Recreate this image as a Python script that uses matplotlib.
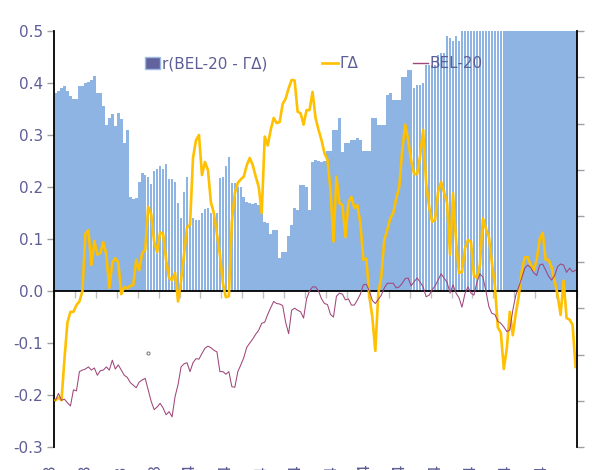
import matplotlib
matplotlib.use('Agg')
import matplotlib.pyplot as plt
import matplotlib.patches as mpatches
import matplotlib.lines as mlines
import numpy as np

# *************************************************************************
# Data (daily values, left-axis units)

corr_bel_gd = [0.38, 0.385, 0.39, 0.395, 0.385, 0.375, 0.37, 0.37, 0.395, 0.395,
               0.40, 0.402, 0.405, 0.413, 0.38, 0.38, 0.355, 0.32, 0.333, 0.34,
               0.318, 0.342, 0.33, 0.285, 0.31, 0.18, 0.177, 0.178, 0.21, 0.227,
               0.223, 0.22, 0.205, 0.23, 0.235, 0.24, 0.235, 0.245, 0.215, 0.215,
               0.21, 0.17, 0.14, 0.19, 0.22, 0.14, 0.14, 0.137, 0.137, 0.15,
               0.158, 0.16, 0.15, 0.146, 0.15, 0.217, 0.22, 0.24, 0.258, 0.207,
               0.208, 0.2, 0.2, 0.18, 0.172, 0.17, 0.168, 0.17, 0.165, 0.156,
               0.133, 0.13, 0.11, 0.117, 0.118, 0.063, 0.075, 0.075, 0.105, 0.127,
               0.16, 0.156, 0.204, 0.204, 0.2, 0.156, 0.248, 0.252, 0.25, 0.248,
               0.25, 0.27, 0.27, 0.31, 0.31, 0.333, 0.268, 0.285, 0.285, 0.29,
               0.29, 0.294, 0.29, 0.27, 0.27, 0.27, 0.333, 0.333, 0.32, 0.32,
               0.32, 0.377, 0.38, 0.367, 0.367, 0.367, 0.412, 0.412, 0.425, 0.425,
               0.39, 0.396, 0.396, 0.40, 0.435, 0.435, 0.435, 0.435, 0.454, 0.458,
               0.458, 0.49, 0.486, 0.48, 0.49, 0.48,
               0.52, 0.53, 0.55, 0.56, 0.54, 0.57, 0.58, 0.56, 0.59, 0.6,
               0.61, 0.6, 0.58, 0.59, 0.62, 0.61, 0.6, 0.58, 0.57, 0.59,
               0.6, 0.62, 0.61, 0.6, 0.59, 0.58, 0.6, 0.61, 0.62, 0.6,
               0.59, 0.58, 0.57, 0.58, 0.6, 0.59, 0.58, 0.57, 0.56]

gamma_delta = [-0.21, -0.205, -0.21, -0.13, -0.06, -0.04, -0.04, -0.027, -0.02, 0.0,
               0.11, 0.117, 0.05, 0.096, 0.07, 0.073, 0.094, 0.07, 0.006, 0.054,
               0.063, 0.055, -0.006, 0.008, 0.005, 0.01, 0.011, 0.06, 0.04, 0.073,
               0.079, 0.162, 0.148, 0.095, 0.075, 0.113, 0.11, 0.06, 0.025, 0.021,
               0.035, -0.02, 0.02, 0.07, 0.123, 0.127, 0.256, 0.29, 0.30, 0.223,
               0.248, 0.233, 0.17, 0.15, 0.11, 0.07, 0.015, -0.012, -0.01, 0.133,
               0.188, 0.208, 0.215, 0.22, 0.242, 0.256, 0.242, 0.22, 0.2, 0.15,
               0.297, 0.28, 0.31, 0.333, 0.323, 0.325, 0.36, 0.37, 0.39, 0.406,
               0.405, 0.345, 0.342, 0.32, 0.348, 0.348, 0.383, 0.333, 0.31, 0.29,
               0.265, 0.252, 0.194, 0.095, 0.22, 0.169, 0.165, 0.104, 0.17, 0.181,
               0.16, 0.165, 0.13, 0.06, 0.062, -0.01, -0.05, -0.115, -0.005, 0.027,
               0.098, 0.117, 0.14, 0.15, 0.178, 0.2, 0.27, 0.32, 0.29, 0.25,
               0.225, 0.225, 0.26, 0.31, 0.208, 0.162, 0.133, 0.137, 0.19, 0.21,
               0.19, 0.17, 0.07, 0.188, 0.098, 0.035, 0.037, 0.082, 0.098, 0.095,
               0.03, 0.025, 0.05, 0.14, 0.12, 0.104, 0.055, 0.01, -0.07, -0.08,
               -0.15, -0.11, -0.04, -0.085, -0.043, -0.01, 0.038, 0.065, 0.065, 0.05,
               0.04, 0.06, 0.1, 0.112, 0.06, 0.06, 0.045, 0.02, -0.008, -0.046,
               0.02, -0.052, -0.055, -0.065, -0.146]

bel20 = [-0.21, -0.197, -0.21, -0.208, -0.215, -0.221, -0.19, -0.192, -0.155, -0.152,
         -0.15, -0.146, -0.152, -0.148, -0.162, -0.153, -0.152, -0.146, -0.152, -0.133,
         -0.15, -0.142, -0.152, -0.162, -0.166, -0.176, -0.181, -0.186, -0.175, -0.171,
         -0.168, -0.19, -0.212, -0.228, -0.223, -0.216, -0.225, -0.238, -0.232, -0.242,
         -0.203, -0.18, -0.146, -0.14, -0.138, -0.155, -0.138, -0.13, -0.131, -0.12,
         -0.11, -0.106, -0.109, -0.114, -0.117, -0.155, -0.155, -0.16, -0.155, -0.184,
         -0.185, -0.155, -0.142, -0.128, -0.108, -0.1, -0.092, -0.083, -0.075, -0.062,
         -0.06, -0.045, -0.032, -0.02, -0.024, -0.025, -0.028, -0.06, -0.082, -0.037,
         -0.033, -0.037, -0.04, -0.052, -0.015, 0.0, 0.008, 0.008, 0.0, -0.015,
         -0.024, -0.026, -0.045, -0.05, -0.01, -0.004, -0.006, -0.017, -0.015, -0.027,
         -0.027, -0.017, -0.006, 0.012, 0.013, 0.0, -0.018, -0.024, -0.016, -0.008,
         0.006, 0.015, 0.015, 0.015, 0.006, 0.008, 0.015, 0.024, 0.025, 0.01,
         0.018, 0.025, 0.017, 0.008, -0.011, -0.008, 0.002, 0.01, 0.021, 0.033,
         0.025, 0.017, -0.004, 0.012, -0.004, -0.013, -0.031, -0.005, 0.008, -0.004,
         -0.008, 0.017, 0.033, 0.027, 0.0, -0.03, -0.043, -0.045, -0.058, -0.062,
         -0.069, -0.078, -0.075, -0.037, -0.008, 0.008, 0.025, 0.044, 0.05, 0.045,
         0.035, 0.03, 0.05, 0.052, 0.04, 0.028, 0.021, 0.03, 0.047, 0.052,
         0.05, 0.036, 0.044, 0.037, 0.04]

date_labels = ['sep/03', 'okt/03', 'nov/03', 'dec/03', 'jan/04', 'feb/04', 'mrt/04',
               'apr/04', 'mei/04', 'jun/04', 'jul/04', 'aug/04', 'sep/04', 'okt/04',
               'nov/04']

left_ticks = [-0.3, -0.2, -0.1, 0.0, 0.1, 0.2, 0.3, 0.4, 0.5]

# *************************************************************************
txt_col = '#5E5E96'
bar_col = '#8DB4E2'
gd_col = '#FFC000'
bel_col = '#A0457A'

plt.rcParams['font.family'] = ['DejaVu Sans']

fig = plt.figure(figsize=(5.93, 4.70), dpi=100)
ax = fig.add_axes([0.0911, 0.0489, 0.882, 0.885])

n = len(corr_bel_gd)
idx = np.arange(n)

ax.bar(idx, corr_bel_gd, width=0.88, color=bar_col, linewidth=0, zorder=1)
ax.plot(idx, gamma_delta, color=gd_col, linewidth=1.9, zorder=3)
ax.plot(idx, bel20, color=bel_col, linewidth=0.75, zorder=4)

# stray grey point in the original
ax.plot([31], [-0.12], marker='o', markersize=2.2, markerfacecolor='none',
        markeredgecolor='#808080', markeredgewidth=0.8, zorder=5)

ax.set_xlim(-0.5, n - 0.5)
ax.set_ylim(-0.3, 0.5)

# Left axis
ax.set_yticks(left_ticks)
ax.set_yticklabels(['{:.1f}'.format(v) for v in left_ticks])
ax.tick_params(axis='y', direction='out', length=5, width=1, color='#A0A0A0',
               labelcolor=txt_col, labelsize=11, pad=3)
ax.spines['left'].set_color('black')
ax.spines['left'].set_linewidth(1.3)
ax.spines['top'].set_visible(False)
ax.spines['right'].set_visible(False)

# Category axis sits on zero
ax.spines['bottom'].set_position(('data', 0))
ax.spines['bottom'].set_color('black')
ax.spines['bottom'].set_linewidth(1.3)
ax.spines['bottom'].set_zorder(2)
ax.set_xticks(np.arange(-0.5, n, 7))
ax.tick_params(axis='x', direction='out', length=5, width=1, color='#C0C0C0',
               labelbottom=False)

# Date labels, rotated and cut by the bottom edge of the figure
for k, lab in enumerate(date_labels):
    ax.text(k * 11.71 - 1.6, -0.041, lab, transform=ax.get_xaxis_transform(),
            rotation=90, ha='center', va='top', fontsize=11, color=txt_col,
            clip_on=False)

# Secondary axis: ticks only
ax2 = ax.twinx()
ax2.set_ylim(0, 9)
ax2.set_yticks(np.arange(10))
ax2.tick_params(axis='y', direction='out', length=5, width=1, color='#A0A0A0',
                labelright=False)
for s in ['left', 'top', 'bottom']:
    ax2.spines[s].set_visible(False)
ax2.spines['right'].set_color('black')
ax2.spines['right'].set_linewidth(1.3)

# Legend
h_bar = mpatches.Patch(facecolor='#62629C', edgecolor='#9DBBE6', linewidth=1)
h_gd = mlines.Line2D([], [], color=gd_col, linewidth=1.9)
h_bel = mlines.Line2D([], [], color=bel_col, linewidth=1)
leg = ax.legend([h_bar, h_gd, h_bel], ['r(BEL-20 - ΓΔ)', 'ΓΔ', 'BEL-20'],
                loc='center', bbox_to_anchor=(0.497, 0.921), ncol=3,
                frameon=False, fontsize=11, handlelength=1.0, handleheight=0.8,
                handletextpad=0.1, columnspacing=3.6, borderaxespad=0)
for t in leg.get_texts():
    t.set_color(txt_col)

fig.savefig('out.png', dpi=100)
